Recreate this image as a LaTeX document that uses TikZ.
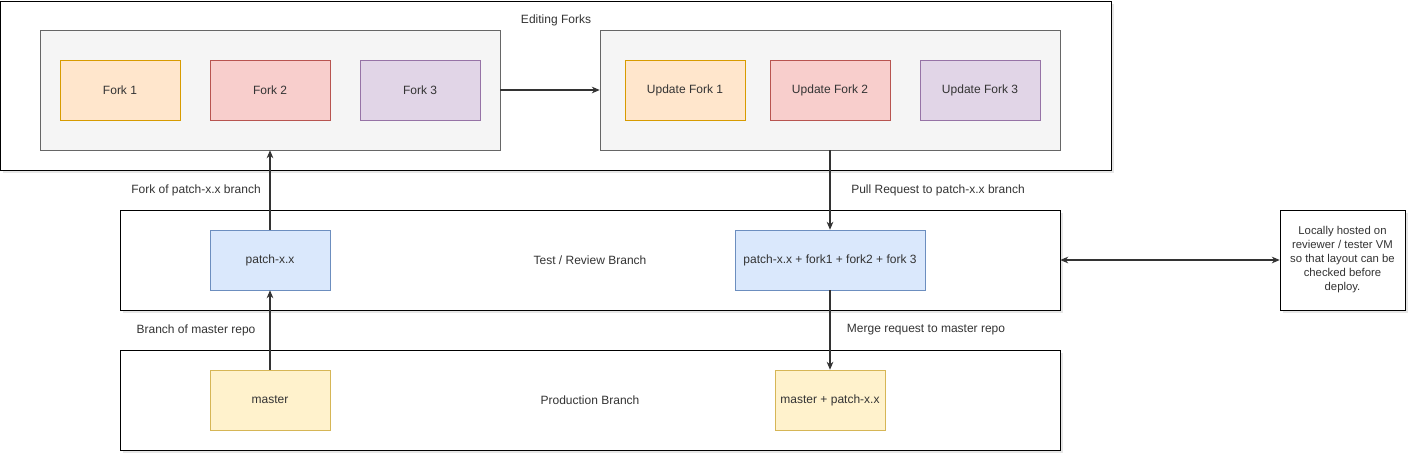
\documentclass[tikz,border=0pt]{standalone}
\usepackage{fontspec}
\setmainfont{Liberation Sans}
\usetikzlibrary{arrows.meta,shadows}
\definecolor{txtgrey}{HTML}{333333}
\definecolor{greyfill}{HTML}{F5F5F5}
\definecolor{greyline}{HTML}{666666}
\definecolor{orangefill}{HTML}{FFE6CC}
\definecolor{orangeline}{HTML}{D79B00}
\definecolor{redfill}{HTML}{F8CECC}
\definecolor{redline}{HTML}{B85450}
\definecolor{purplefill}{HTML}{E1D5E7}
\definecolor{purpleline}{HTML}{9673A6}
\definecolor{bluefill}{HTML}{DAE8FC}
\definecolor{blueline}{HTML}{6C8EBF}
\definecolor{yellowfill}{HTML}{FFF2CC}
\definecolor{yellowline}{HTML}{D6B656}
\tikzset{
  lane/.style={draw=black, fill=white, inner sep=0pt,
    drop shadow={opacity=0.2, shadow xshift=2pt, shadow yshift=-2pt}},
  group/.style={draw=greyline, fill=greyfill, inner sep=0pt,
    minimum width=345pt, minimum height=90pt},
  item/.style={draw, inner sep=0pt, minimum height=45pt, minimum width=90pt, text=txtgrey},
  caption/.style={text=txtgrey, inner sep=1pt},
  arr/.style={-{Stealth[length=6pt,width=5pt]}, draw=txtgrey, thick},
}
\begin{document}
\begin{tikzpicture}[x=0.75pt,y=-0.75pt, font=\fontsize{9}{11}\selectfont]
  \useasboundingbox (0,0) rectangle (1412,462);
  % lanes
  \node[lane, minimum width=833pt, minimum height=127pt] (editing) at (556,85.5) {};
  \node[caption] (editinglbl) at (556,20) {Editing Forks};
  \node[lane, minimum width=705pt, minimum height=75pt] (review) at (590,260) {};
  \node[caption] (reviewlbl) at (590,260) {Test / Review Branch};
  \node[lane, minimum width=705pt, minimum height=75pt] (prod) at (590,400) {};
  \node[caption] (prodlbl) at (590,400) {Production Branch};
  % fork groups
  \node[group] (forks) at (270,90) {};
  \node[group] (updates) at (830,90) {};
  \node[item, fill=orangefill, draw=orangeline] (fork1) at (120,90) {Fork 1};
  \node[item, fill=redfill, draw=redline] (fork2) at (270,90) {Fork 2};
  \node[item, fill=purplefill, draw=purpleline] (fork3) at (420,90) {Fork 3};
  \node[item, fill=orangefill, draw=orangeline] (upd1) at (685,90) {Update Fork 1};
  \node[item, fill=redfill, draw=redline] (upd2) at (830,90) {Update Fork 2};
  \node[item, fill=purplefill, draw=purpleline] (upd3) at (980,90) {Update Fork 3};
  % branches
  \node[item, fill=bluefill, draw=blueline] (patch) at (270,260) {patch-x.x};
  \node[item, fill=bluefill, draw=blueline, minimum width=142.5pt] (combined) at (830,260) {patch-x.x + fork1 + fork2 + fork 3};
  \node[item, fill=yellowfill, draw=yellowline] (master) at (270,400) {master};
  \node[item, fill=yellowfill, draw=yellowline, minimum width=82.5pt] (merged) at (830,400) {master + patch-x.x};
  % note
  \node[lane, minimum width=93.75pt, minimum height=75pt, align=center, text=txtgrey,
    font=\fontsize{8.5}{10.5}\selectfont] (note) at (1342.5,260)
    {Locally hosted on\\reviewer / tester VM\\so that layout can be\\checked before\\deploy.};
  % edge labels
  \node[caption] (forklbl) at (196,190) {Fork of patch-x.x branch};
  \node[caption] (branchlbl) at (196,330) {Branch of master repo};
  \node[caption] (pulllbl) at (938,190) {Pull Request to patch-x.x branch};
  \node[caption] (mergelbl) at (926,330) {Merge request to master repo};
  % connectors
  \draw[arr] (forks) -- (updates);
  \draw[arr] (master) -- (patch);
  \draw[arr] (patch) -- (forks);
  \draw[arr] (updates) -- (combined);
  \draw[arr] (combined) -- (merged);
  \draw[arr, {Stealth[length=6pt,width=5pt]}-{Stealth[length=6pt,width=5pt]}] (review) -- (note);
\end{tikzpicture}
\end{document}
